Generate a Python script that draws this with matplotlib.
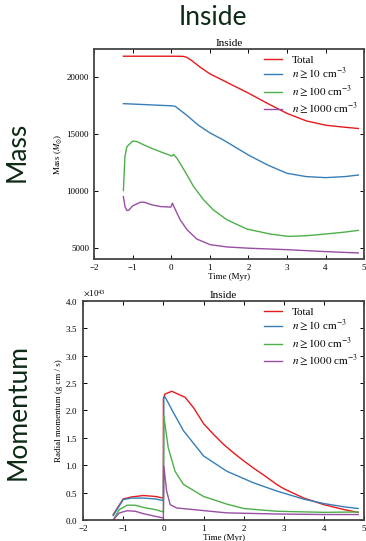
import matplotlib
matplotlib.use('Agg')
import matplotlib.pyplot as plt

plt.rcParams['font.family'] = ['Liberation Serif', 'DejaVu Serif']
plt.rcParams['mathtext.fontset'] = 'stix'

# Masa dentro (M_sun) frente a tiempo (Myr)
t_tot = [-1.24, 0.0, 0.3, 0.4, 0.53, 0.75, 1.0, 1.26, 1.5, 2.0, 2.5, 3.0, 3.5, 4.0, 4.5, 4.85]
m_tot = [21870, 21870, 21860, 21780, 21490, 20900, 20320, 19880, 19470, 18620, 17700, 16830, 16170, 15790, 15610, 15500]

t_10 = [-1.24, 0.0, 0.1, 0.4, 0.7, 1.0, 1.36, 2.0, 2.5, 3.0, 3.5, 4.0, 4.5, 4.85]
m_10 = [17690, 17500, 17460, 16670, 15800, 15120, 14470, 13160, 12280, 11550, 11260, 11170, 11260, 11400]

t_100 = [-1.24, -1.2, -1.15, -1.0, -0.9, -0.7, -0.5, -0.28, 0.02, 0.06, 0.15, 0.36, 0.58, 0.84,
         1.09, 1.44, 1.96, 2.56, 3.03, 3.5, 4.0, 4.5, 4.85]
m_100 = [10030, 13010, 13890, 14390, 14360, 14040, 13740, 13450, 13070, 13220, 12870, 11690, 10380, 9210,
         8330, 7460, 6640, 6200, 5990, 6050, 6200, 6370, 6520]

t_1000 = [-1.24, -1.2, -1.15, -1.1, -1.0, -0.8, -0.7, -0.5, -0.28, -0.01, 0.03, 0.08, 0.23, 0.41,
          0.66, 1.01, 1.44, 2.0, 3.0, 4.0, 4.85]
m_1000 = [9500, 8630, 8270, 8300, 8680, 9000, 9000, 8770, 8620, 8570, 8920, 8540, 7460, 6580,
          5760, 5260, 5060, 4950, 4820, 4650, 4530]

# Momento radial (1e43 g cm/s)
tp_tot = [-1.25, -1.0, -0.8, -0.5, -0.2, 0.0, 0.0, 0.04, 0.21, 0.54, 0.75, 1.0, 1.24, 1.5, 1.74, 2.0,
          2.24, 2.5, 2.82, 3.0, 3.5, 4.0, 4.5, 4.85]
p_tot = [0.10, 0.385, 0.42, 0.447, 0.43, 0.40, 2.22, 2.30, 2.35, 2.24, 2.05, 1.76, 1.57, 1.38, 1.23, 1.08,
         0.95, 0.82, 0.65, 0.57, 0.40, 0.28, 0.19, 0.14]

tp_10 = [-1.25, -1.0, -0.8, -0.5, -0.2, 0.0, 0.01, 0.04, 0.25, 0.5, 1.0, 1.58, 2.24, 2.82, 3.5, 4.0, 4.5, 4.85]
p_10 = [0.08, 0.373, 0.40, 0.40, 0.385, 0.355, 2.22, 2.25, 1.96, 1.63, 1.17, 0.89, 0.68, 0.53, 0.38, 0.30, 0.24, 0.21]

tp_100 = [-1.25, -1.1, -0.9, -0.7, -0.5, -0.2, 0.0, 0.01, 0.12, 0.29, 0.5, 1.0, 1.58, 2.0, 2.82, 4.0, 4.85]
p_100 = [0.0, 0.19, 0.27, 0.27, 0.23, 0.19, 0.147, 1.90, 1.32, 0.89, 0.65, 0.43, 0.29, 0.21, 0.16, 0.14, 0.147]

tp_1000 = [-1.25, -1.1, -0.9, -0.7, -0.5, -0.2, 0.0, 0.01, 0.08, 0.17, 0.33, 0.75, 1.58, 2.82, 4.0, 4.85]
p_1000 = [0.0, 0.128, 0.17, 0.16, 0.116, 0.067, 0.037, 0.985, 0.53, 0.28, 0.22, 0.19, 0.13, 0.11, 0.10, 0.10]

labels = ['Total', r'$n \geq 10$ cm$^{-3}$', r'$n \geq 100$ cm$^{-3}$', r'$n \geq 1000$ cm$^{-3}$']
colors = ['#e41a1c', '#377eb8', '#4daf4a', '#984ea3']
green_txt = '#0d2a15'


def style_axes(ax):
    for s in ax.spines.values():
        s.set_color('#444444')
        s.set_linewidth(1.3)
    ax.tick_params(direction='in', top=True, right=True, labelsize=6.5, length=3, width=0.7)
    ax.set_xlim(-2, 5)
    ax.set_xticks(range(-2, 6))
    ax.set_xlabel('Time (Myr)', fontsize=6.5, labelpad=1)
    ax.set_title('Inside', fontsize=8, pad=2)
    ax.legend(loc='upper right', frameon=False, fontsize=8, handlelength=1.6,
              handletextpad=0.9, labelspacing=0.12, borderaxespad=0.15)


fig = plt.figure(figsize=(3.66, 5.41), dpi=100)
fig.text(0.582, 0.967, 'Inside', fontsize=19, family='Lato', color=green_txt, ha='center', va='center')
fig.text(0.047, 0.72, 'Mass', fontsize=19, family='Lato', color=green_txt, rotation=90, ha='center', va='center')
fig.text(0.05, 0.238, 'Momentum', fontsize=19, family='Lato', color=green_txt, rotation=90, ha='center', va='center')

ax1 = fig.add_axes([0.257, 0.5213, 0.738, 0.388])
for tx, ty, c, lab in zip([t_tot, t_10, t_100, t_1000], [m_tot, m_10, m_100, m_1000], colors, labels):
    ax1.plot(tx, ty, color=c, lw=1.0, label=lab)
ax1.set_ylim(4000, 22500)
ax1.set_yticks([5000, 10000, 15000, 20000])
ax1.set_ylabel(r'Mass ($M_{\odot}$)', fontsize=6.5, labelpad=2)
style_axes(ax1)

ax2 = fig.add_axes([0.227, 0.0388, 0.768, 0.405])
for tx, ty, c, lab in zip([tp_tot, tp_10, tp_100, tp_1000], [p_tot, p_10, p_100, p_1000], colors, labels):
    ax2.plot(tx, [v * 1e43 for v in ty], color=c, lw=1.0, label=lab)
ax2.set_ylim(0, 4e43)
ax2.set_yticks([i * 0.5e43 for i in range(9)])
ax2.ticklabel_format(axis='y', style='sci', scilimits=(0, 0), useMathText=True)
ax2.yaxis.get_offset_text().set_fontsize(6.5)
ax2.set_ylabel('Radial momentum (g cm / s)', fontsize=6.5, labelpad=2)
style_axes(ax2)

fig.savefig('out.png', dpi=100)
